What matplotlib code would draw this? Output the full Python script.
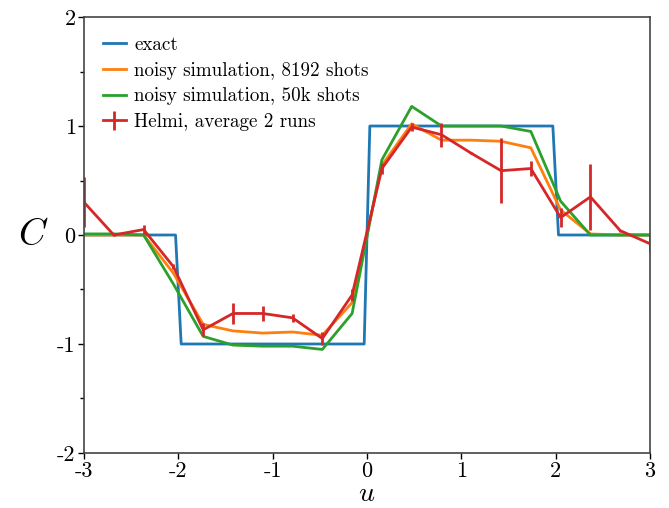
import numpy as np
import matplotlib
matplotlib.use("Agg")
import matplotlib.pyplot as plt
from matplotlib.ticker import MultipleLocator

plt.rcParams['font.family'] = 'serif'
plt.rcParams['font.serif'] = ['cmr10']
plt.rcParams['mathtext.fontset'] = 'cm'
plt.rcParams['axes.unicode_minus'] = False

# sample points (20 evenly spaced values of u)
u = np.linspace(-3, 3, 20)

# exact step profile (breakpoints)
u_exact = [-3.0, -2.03, -1.97, -0.03, 0.03, 1.97, 2.03, 3.0]
c_exact = [0, 0, -1, -1, 1, 1, 0, 0]

# noisy simulation, 8192 shots
c_8192 = [0.0, 0.0, 0.0, -0.35, -0.82, -0.88, -0.90, -0.89, -0.92, -0.62,
          0.64, 1.02, 0.87, 0.87, 0.86, 0.80, 0.23, 0.01, 0.0, 0.0]

# noisy simulation, 50k shots
c_50k = [0.01, 0.01, 0.0, -0.45, -0.93, -1.01, -1.02, -1.02, -1.05, -0.72,
         0.69, 1.18, 1.00, 1.00, 1.00, 0.95, 0.31, 0.0, 0.0, 0.0]

# Helmi, average 2 runs
c_helmi = [0.30, 0.0, 0.05, -0.29, -0.87, -0.72, -0.72, -0.76, -0.95, -0.55,
           0.61, 0.99, 0.92, 0.75, 0.59, 0.61, 0.16, 0.35, 0.04, -0.08]
err_helmi = [0.23, 0.01, 0.04, 0.02, 0.06, 0.10, 0.07, 0.035, 0.06, 0.055,
             0.05, 0.04, 0.11, 0.01, 0.30, 0.07, 0.09, 0.30, 0.01, 0.08]

fig = plt.figure(figsize=(6.69, 5.08), dpi=100)
ax = fig.add_axes([0.1256, 0.1083, 0.8460, 0.8582])

lw = 2.0
ax.plot(u_exact, c_exact, color='tab:blue', lw=lw, label='exact')
ax.plot(u, c_8192, color='tab:orange', lw=lw, label='noisy simulation, 8192 shots')
ax.plot(u, c_50k, color='tab:green', lw=lw, label='noisy simulation, 50k shots')
ax.errorbar(u, c_helmi, yerr=err_helmi, color='tab:red', lw=lw, elinewidth=lw,
            capsize=0, label='Helmi, average 2 runs')

ax.set_xlim(-3, 3)
ax.set_ylim(-2, 2)
ax.xaxis.set_major_locator(MultipleLocator(1))
ax.yaxis.set_major_locator(MultipleLocator(1))
ax.yaxis.set_minor_locator(MultipleLocator(0.5))
ax.tick_params(which='major', length=4, width=1, labelsize=16, pad=2)
ax.tick_params(which='minor', length=3, width=1)
for s in ax.spines.values():
    s.set_linewidth(1.2)
    s.set_color('#444444')

ax.set_xlabel('$u$', fontsize=20, labelpad=0)
ax.set_ylabel('$C$', fontsize=27, rotation=0, labelpad=17, va='center')

ax.legend(loc='upper left', frameon=False, fontsize=13.7, handlelength=1.2,
          handletextpad=0.45, labelspacing=0.4, borderaxespad=0.6)

fig.savefig('out.png', dpi=100)
